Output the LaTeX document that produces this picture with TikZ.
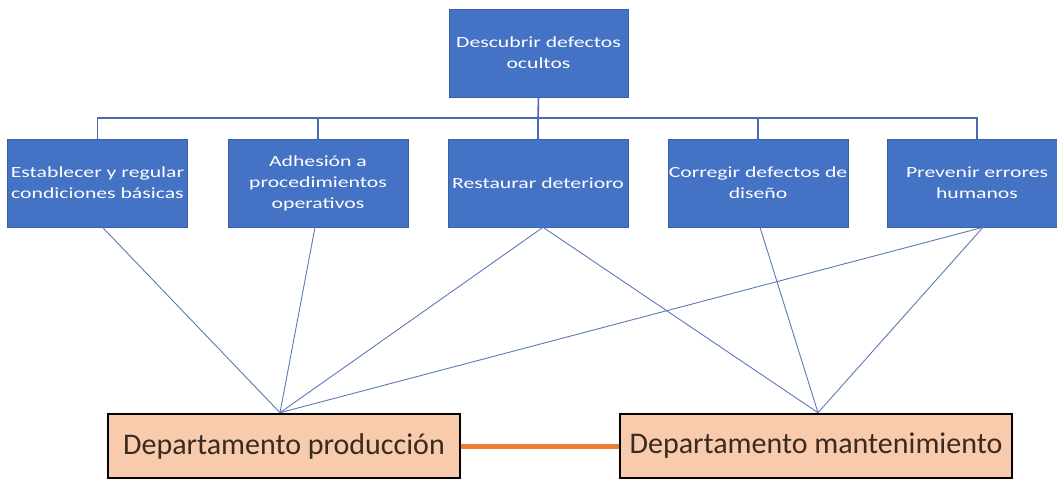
\documentclass[tikz,border=0pt]{standalone}
\usepackage{fontspec}
\setmainfont{Carlito}
\newfontfamily\boxfont[FakeStretch=1.4]{Carlito}
\definecolor{boxblue}{HTML}{4472C4}
\definecolor{lineblue}{HTML}{4A6AAE}
\definecolor{peach}{HTML}{F8CBAD}
\definecolor{orangeline}{HTML}{ED7D31}
\definecolor{darktext}{HTML}{3A2A20}
\tikzset{
  bluebox/.style={rectangle, fill=boxblue, draw=boxblue!85!black, line width=0.6pt,
    minimum width=180pt, minimum height=88pt, inner sep=0pt, align=center,
    text=white, font=\boxfont\fontsize{15.5}{21}\selectfont},
  deptbox/.style={rectangle, fill=peach, draw=black, line width=2.6pt,
    minimum height=64pt, inner sep=0pt, text=darktext,
    font=\fontsize{30}{34}\selectfont},
  tree/.style={draw=lineblue, line width=1.6pt},
  link/.style={draw=lineblue!90, line width=0.9pt},
}
\begin{document}
\begin{tikzpicture}[x=1pt,y=-1pt]
\useasboundingbox (0,0) rectangle (1057,481);
\node[bluebox, minimum width=179pt] (top) at (538.5,53) {Descubrir defectos\\ocultos};
\node[bluebox] (b1) at (97.5,183) {Establecer y regular\\condiciones básicas};
\node[bluebox] (b2) at (318,183) {Adhesión a\\procedimientos\\operativos};
\node[bluebox] (b3) at (538,183) {Restaurar deterioro};
\node[bluebox] (b4) at (758,183) {Corregir defectos de\\diseño};
\node[bluebox] (b5) at (977,183) {Prevenir errores\\humanos};
\node[deptbox, minimum width=352pt] (P) at (284,446) {Departamento producción};
\node[deptbox, minimum width=392pt] (M) at (816,446) {Departamento mantenimiento};
\coordinate (bus) at (538,118);
% tree
\draw[tree] (top.south) -- (bus);
\draw[tree] (b1.north) |- (bus) -| (b5.north);
\draw[tree] (b2.north) -- (b2.north |- bus);
\draw[tree] (b3.north) -- (b3.north |- bus);
\draw[tree] (b4.north) -- (b4.north |- bus);
% links
\draw[link] ([xshift=5pt]b1.south) -- ([xshift=-4pt]P.north);
\draw[link] ([xshift=-3pt]b2.south) -- ([xshift=-4pt]P.north);
\draw[link] ([xshift=5pt]b3.south) -- ([xshift=-4pt]P.north);
\draw[link] ([xshift=5pt]b3.south) -- ([xshift=2pt]M.north);
\draw[link] ([xshift=2pt]b4.south) -- ([xshift=2pt]M.north);
\draw[link] ([xshift=6pt]b5.south) -- ([xshift=-4pt]P.north);
\draw[link] ([xshift=6pt]b5.south) -- ([xshift=2pt]M.north);
% orange connector
\draw[orangeline, line width=5pt] (P.east) -- (M.west);
\end{tikzpicture}
\end{document}
